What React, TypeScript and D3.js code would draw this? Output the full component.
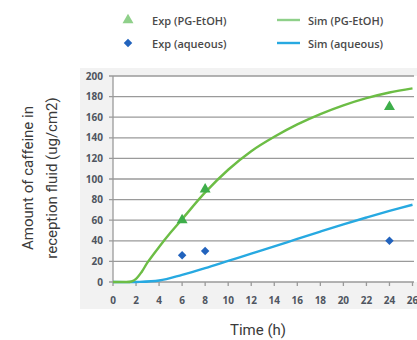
import React from "react";
import * as d3 from "d3";

const W = 417;
const H = 340;

const xTicks = [0, 2, 4, 6, 8, 10, 12, 14, 16, 18, 20, 22, 24, 26];
const yTicks = [0, 20, 40, 60, 80, 100, 120, 140, 160, 180, 200];

const expPgTime = [6, 8, 24];
const expPgVal = [60, 90, 170];
const expAqTime = [6, 8, 24];
const expAqVal = [26, 30, 40];

const simPgTime = [0, 1, 1.6, 2, 2.5, 3, 4, 5, 6, 8, 10, 12, 14, 16, 18, 20, 22, 24, 26];
const simPgVal = [0, 0, 0.5, 3, 10, 19, 34, 48, 61, 87, 109, 127, 141, 153, 163, 171.5, 178.5, 184, 188];
const simAqTime = [0, 2, 4, 6, 8, 10, 12, 14, 16, 18, 20, 22, 24, 26];
const simAqVal = [0, 0, 1.4, 7, 13.5, 20.5, 27.5, 34.5, 41.8, 49, 56, 62.6, 69, 75];

const legendLabels = ["Exp (PG-EtOH)", "Exp (aqueous)", "Sim (PG-EtOH)", "Sim (aqueous)"];

const GREEN_LINE = "#6cbd45";
const GREEN_MARK = "#3eae4a";
const BLUE_LINE = "#27a9e1";
const BLUE_MARK = "#2263bd";

export default function App() {
  const x = d3.scaleLinear().domain([0, 26]).range([113, 412.5]);
  const y = d3.scaleLinear().domain([0, 200]).range([282, 76]);

  const line = d3
    .line<[number, number]>()
    .x((d) => x(d[0]))
    .y((d) => y(d[1]))
    .curve(d3.curveCatmullRom.alpha(0.5));

  const pgPts: [number, number][] = simPgTime.map((t, i) => [t, simPgVal[i]]);
  const aqPts: [number, number][] = simAqTime.map((t, i) => [t, simAqVal[i]]);

  const tri = d3.symbol().type(d3.symbolTriangle).size(52)();
  const sq = d3.symbol().type(d3.symbolSquare).size(36)();

  const tickFont = { fontFamily: "Open Sans, sans-serif", fontSize: 10, fontWeight: 700, fill: "#4f5560" };
  const legFont = { fontFamily: "Open Sans, sans-serif", fontSize: 11, fontWeight: 600, fill: "#4a4a4a" };
  const titleFont = { fontFamily: "Roboto, sans-serif", fontSize: 15, fill: "#3a3a3a" };

  return (
    <svg width={W} height={H} style={{ position: "absolute", left: 0, top: 0 }}>
      <rect x={0} y={0} width={W} height={H} fill="#ffffff" />
      <rect x={80} y={68} width={W - 80} height={241} fill="#f2f2f2" />
      <rect x={x(0)} y={y(200)} width={W - x(0)} height={y(0) - y(200)} fill="#ffffff" />

      {yTicks.map((t) => (
        <line key={"g" + t} x1={x(0) - 4} x2={414} y1={y(t)} y2={y(t)} stroke="#9a9a9a" strokeWidth={1.3} />
      ))}
      <line x1={x(0)} x2={x(0)} y1={y(200)} y2={y(0)} stroke="#9a9a9a" strokeWidth={1.3} />
      {xTicks.map((t) => (
        <line key={"xt" + t} x1={x(t)} x2={x(t)} y1={y(0)} y2={y(0) + 4} stroke="#9a9a9a" strokeWidth={1.3} />
      ))}
      {yTicks.map((t) => (
        <text key={"yl" + t} x={103} y={y(t)} dy="0.35em" textAnchor="end" style={tickFont}>
          {t}
        </text>
      ))}
      {xTicks.map((t) => (
        <text key={"xl" + t} x={x(t)} y={300} dy="0.35em" textAnchor="middle" style={tickFont}>
          {t}
        </text>
      ))}

      <path d={line(aqPts) || ""} fill="none" stroke={BLUE_LINE} strokeWidth={2.4} />
      <path d={line(pgPts) || ""} fill="none" stroke={GREEN_LINE} strokeWidth={2.4} />

      {expPgTime.map((t, i) => (
        <path key={"tp" + i} d={tri || ""} transform={`translate(${x(t)},${y(expPgVal[i])})`} fill={GREEN_MARK} />
      ))}
      {expAqTime.map((t, i) => (
        <path key={"ap" + i} d={sq || ""} transform={`translate(${x(t)},${y(expAqVal[i])}) rotate(45)`} fill={BLUE_MARK} />
      ))}

      <path d={tri || ""} transform="translate(128,20)" fill="#8fd08a" />
      <text x={152} y={21} dy="0.35em" style={legFont}>{legendLabels[0]}</text>
      <path d={sq || ""} transform="translate(128,43) rotate(45)" fill={BLUE_MARK} />
      <text x={152} y={44} dy="0.35em" style={legFont}>{legendLabels[1]}</text>
      <line x1={277} x2={300} y1={20} y2={20} stroke="#8fd08a" strokeWidth={2.4} />
      <text x={308} y={21} dy="0.35em" style={legFont}>{legendLabels[2]}</text>
      <line x1={277} x2={300} y1={43} y2={43} stroke={BLUE_LINE} strokeWidth={2.4} />
      <text x={308} y={44} dy="0.35em" style={legFont}>{legendLabels[3]}</text>

      <text transform="translate(28,178) rotate(-90)" textAnchor="middle" dy="0.35em" style={titleFont}>
        Amount of caffeine in
      </text>
      <text transform="translate(52,178) rotate(-90)" textAnchor="middle" dy="0.35em" style={titleFont}>
        reception fluid (ug/cm2)
      </text>
      <text x={258} y={330} dy="0.35em" textAnchor="middle" style={titleFont}>
        Time (h)
      </text>
    </svg>
  );
}
